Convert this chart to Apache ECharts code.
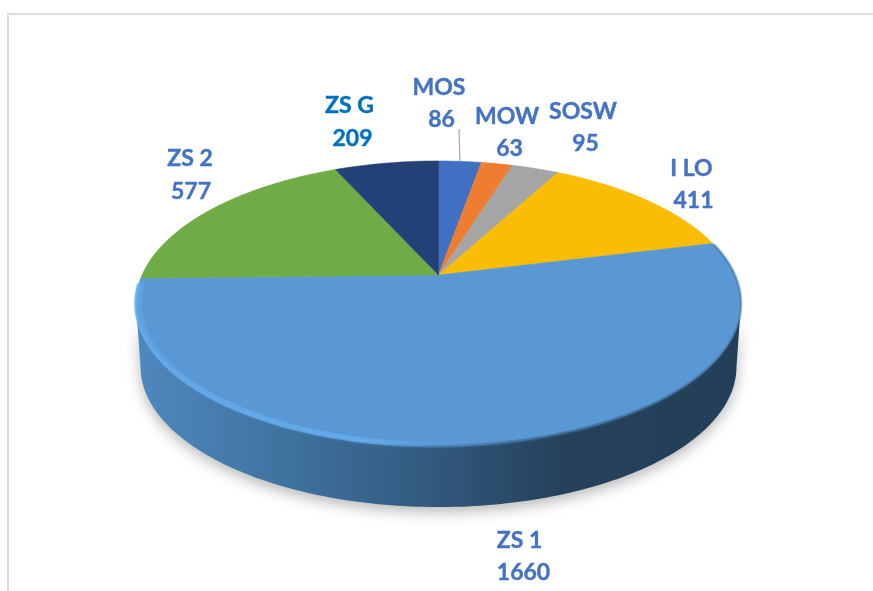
<!DOCTYPE html>
<html>
<head>
<meta charset="utf-8">
<title>Pie</title>
<style>
html, body { margin: 0; padding: 0; background: #fff; }
#main { width: 873px; height: 591px; }
</style>
<script src="https://cdn.jsdelivr.net/npm/echarts@6/dist/echarts.min.js"></script>
</head>
<body>
<div id="main"></div>
<script>
var categories = ['MOS', 'MOW', 'SOSW', 'I LO', 'ZS 1', 'ZS 2', 'ZS G'];
var values = [86, 63, 95, 411, 1660, 577, 209];
var sliceColors = ['#4070c2', '#ee7d30', '#a5a5a5', '#fbbc04', '#5a98d5', '#6fab46', '#234176'];
var labelColors = ['#4472c4', '#4472c4', '#4472c4', '#4472c4', '#4472c4', '#4472c4', '#0070c0'];
// label layout: name x, name y, value x, value y
var labelAnchors = [
    [439, 88, 441.5, 120],
    [507, 117, 509.5, 149],
    [583, 111.5, 585.5, 144],
    [691.5, 169, 693.5, 201],
    [519.5, 541, 523.5, 573],
    [190, 159, 191, 192],
    [349.5, 105.5, 352.5, 139]
];

// projection of the tilted disc
var cx = 438.5, cy = 275, rx = 296.4, ry = 136.8, persp = 0.2;
var wallDrop = 63.6, wallScale = 0.985;

var total = values.reduce(function (a, b) { return a + b; }, 0);
var starts = [];
values.reduce(function (sum, v, i) { starts[i] = sum; return sum + v; }, 0);
var seriesData = values.map(function (v, i) { return [v, starts[i]]; });

function project(deg, scale, drop) {
    var a = deg * Math.PI / 180;
    var u = Math.sin(a), v = -Math.cos(a), w = 1 - persp * v;
    return [cx + scale * rx * u / w, cy + drop + scale * ry * v / w];
}
function arc(from, to, scale, drop) {
    var pts = [], n = Math.max(2, Math.ceil(Math.abs(to - from)));
    for (var i = 0; i <= n; i++) {
        pts.push(project(from + (to - from) * i / n, scale, drop));
    }
    return pts;
}
function sliceAngles(api) {
    var from = api.value(1) / total * 360;
    return [from, from + api.value(0) / total * 360];
}
// part of the rim facing the viewer, left and right tangent points
var frontFrom = 180 - Math.acos(persp) * 180 / Math.PI;
var frontTo = 360 - frontFrom;

function renderWall(params, api) {
    var ang = sliceAngles(api);
    var a = Math.max(ang[0], frontFrom), b = Math.min(ang[1], frontTo);
    if (b <= a) return { type: 'group', children: [] };
    var pts = arc(a, b, 1, 0).concat(arc(b, a, wallScale, wallDrop));
    return {
        type: 'polygon',
        shape: { points: pts },
        style: {
            fill: new echarts.graphic.LinearGradient(1, 0, 0, 0, [
                { offset: 0, color: '#233f58' },
                { offset: 0.3, color: '#25415b' },
                { offset: 0.5, color: '#31587c' },
                { offset: 0.75, color: '#3f729f' },
                { offset: 1, color: '#4f88bf' }
            ]),
            shadowBlur: 14,
            shadowColor: 'rgba(0,0,0,0.28)',
            shadowOffsetY: 5
        }
    };
}

function renderFace(params, api) {
    var ang = sliceAngles(api);
    var pts = [[cx, cy]].concat(arc(ang[0], ang[1], 1, 0));
    var color = sliceColors[params.dataIndex];
    return {
        type: 'polygon',
        shape: { points: pts },
        style: { fill: color, stroke: color, lineWidth: 0.6 }
    };
}

// soft bevel along the front edge: light on the left, fading into the dark wall on the right
function rimLine(a, b, scale, width, stops, blur) {
    return {
        type: 'polyline',
        shape: { points: arc(a, b, scale, 0) },
        style: {
            fill: null,
            lineWidth: width,
            stroke: new echarts.graphic.LinearGradient(1, 0, 0, 0, stops),
            shadowBlur: blur,
            shadowColor: 'rgba(90,150,210,0.5)'
        }
    };
}
function renderRim(params, api) {
    var ang = sliceAngles(api);
    var a = Math.max(ang[0], frontFrom - 25), b = Math.min(ang[1], frontTo + 8);
    if (b <= a) return { type: 'group', children: [] };
    return {
        type: 'group',
        children: [
            rimLine(a, b, 1.0, 3, [
                { offset: 0, color: 'rgba(40,70,100,0.25)' },
                { offset: 0.3, color: 'rgba(45,80,115,0.55)' },
                { offset: 0.5, color: 'rgba(70,120,170,0.6)' },
                { offset: 0.62, color: 'rgba(98,168,232,0.85)' },
                { offset: 1, color: 'rgba(104,176,242,0.85)' }
            ], 2),
            rimLine(a, b, 0.988, 4, [
                { offset: 0, color: 'rgba(90,152,213,0)' },
                { offset: 0.42, color: 'rgba(90,152,213,0)' },
                { offset: 0.62, color: 'rgba(100,172,238,0.9)' },
                { offset: 0.85, color: 'rgba(100,172,238,0.75)' },
                { offset: 1, color: 'rgba(100,172,238,0.5)' }
            ], 5)
        ]
    };
}

function renderLabel(params, api) {
    var i = params.dataIndex, p = labelAnchors[i];
    var font = 'bold 23px Lato, sans-serif';
    function line(text, x, y) {
        return { type: 'text', style: { x: x, y: y, text: text, font: font, fill: labelColors[i], stroke: labelColors[i], lineWidth: 0.4, align: 'center', verticalAlign: 'middle' } };
    }
    var children = [line(categories[i], p[0], p[1]), line(String(api.value(0)), p[2], p[3])];
    if (i === 0) {
        // leader line of the first slice, from its label to the rim
        var mid = project((api.value(1) + api.value(0) / 2) / total * 360, 1.0, 0);
        children.push({ type: 'line', shape: { x1: 459, y1: 129, x2: mid[0], y2: mid[1] }, style: { stroke: '#a6a6a6', lineWidth: 1.2 } });
    }
    return { type: 'group', children: children };
}

function layer(render) {
    return { type: 'custom', coordinateSystem: 'none', silent: true, animation: false, clip: false, renderItem: render, data: seriesData };
}

var myChart = echarts.init(document.getElementById('main'));
myChart.setOption({
    backgroundColor: '#fff',
    animation: false,
    graphic: [
        { type: 'polyline', silent: true, shape: { points: [[8, 591], [8, 14], [873, 14]] }, style: { fill: null, stroke: '#dcdcdc', lineWidth: 2 } }
    ],
    series: [layer(renderWall), layer(renderFace), layer(renderRim), layer(renderLabel)]
});
</script>
</body>
</html>
